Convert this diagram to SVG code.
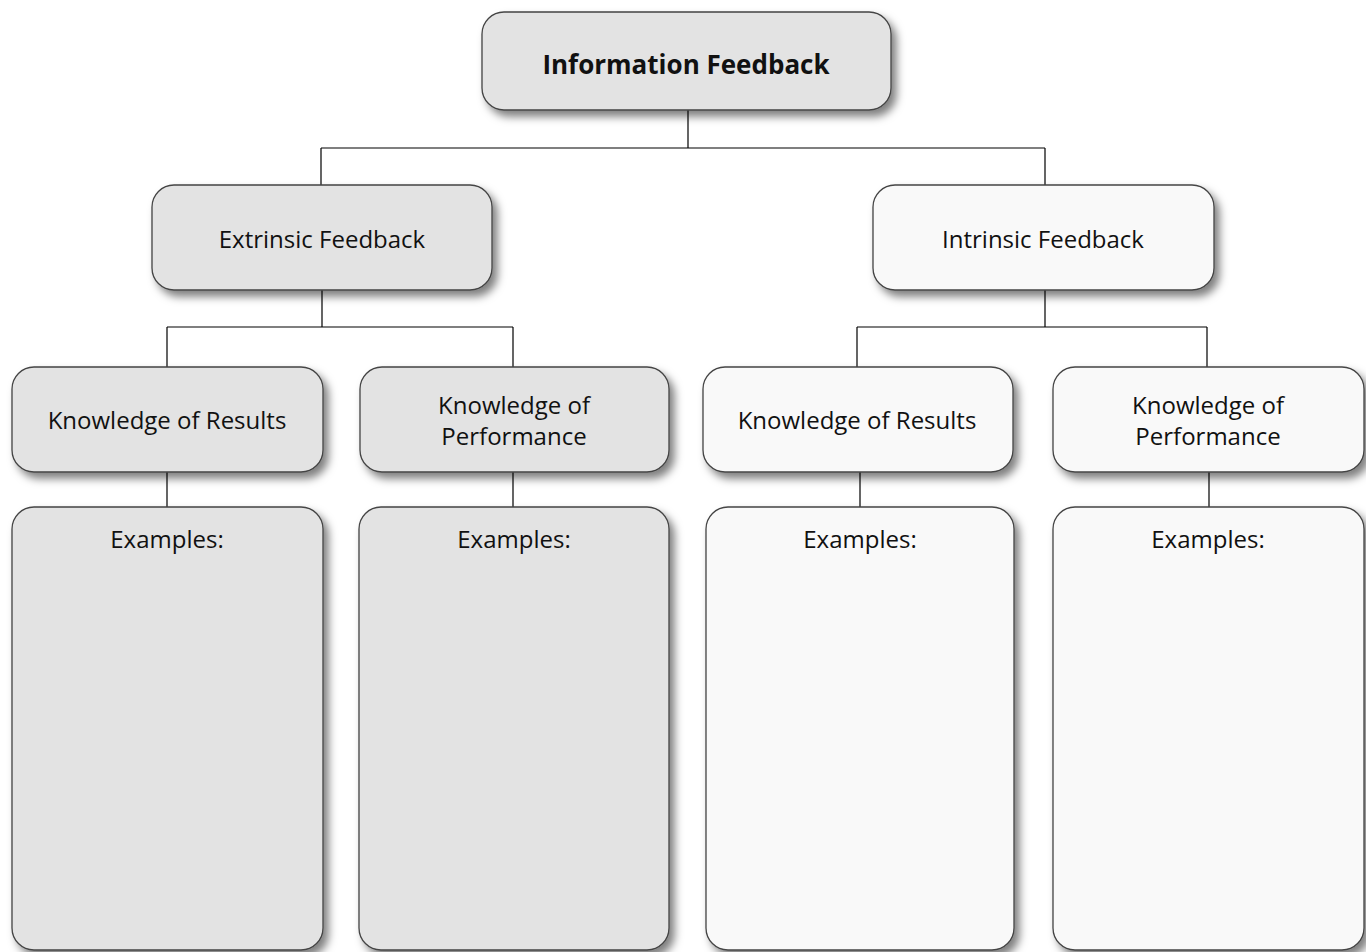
<svg xmlns="http://www.w3.org/2000/svg" width="1366" height="952" viewBox="0 0 1366 952">
<defs>
<filter id="sh" x="-10%" y="-10%" width="130%" height="130%">
<feDropShadow dx="5" dy="6" stdDeviation="4" flood-color="#000" flood-opacity="0.5"/>
</filter>
</defs>
<style>
.box{stroke:#444;stroke-width:1.3;filter:url(#sh)}
.g{fill:#e3e3e3}
.w{fill:#f9f9f9}
.t{font-family:"Open Sans","Liberation Sans",sans-serif;font-size:24px;fill:#111;text-anchor:middle}
.b{font-weight:bold;font-size:26px}
.c{stroke:#000;stroke-width:1.2;fill:none}
</style>
<rect width="1366" height="952" fill="#fff"/>
<g id="connectors">
<path class="c" d="M688 110V148M321 148H1045M321 148V185M1045 148V185"/>
<path class="c" d="M322 290V327M167 327H513M167 327V367M513 327V367"/>
<path class="c" d="M1045 290V327M857 327H1207M857 327V367M1207 327V367"/>
<path class="c" d="M167 472V507M513 472V507M860 472V507M1209 472V507"/>
</g>
<g id="n-info">
<rect class="box g" x="482" y="12" width="409" height="98" rx="22"/>
<text class="t b" x="686" y="74">Information Feedback</text>
</g>
<g id="n-extrinsic">
<rect class="box g" x="152" y="185" width="340" height="105" rx="22"/>
<text class="t" x="322" y="248">Extrinsic Feedback</text>
</g>
<g id="n-intrinsic">
<rect class="box w" x="873" y="185" width="341" height="105" rx="22"/>
<text class="t" x="1043" y="248">Intrinsic Feedback</text>
</g>
<g id="n-ext-kr">
<rect class="box g" x="12" y="367" width="311" height="105" rx="22"/>
<text class="t" x="167" y="429">Knowledge of Results</text>
</g>
<g id="n-ext-kp">
<rect class="box g" x="360" y="367" width="309" height="105" rx="22"/>
<text class="t" x="514" y="414">Knowledge of</text>
<text class="t" x="514" y="445">Performance</text>
</g>
<g id="n-int-kr">
<rect class="box w" x="703" y="367" width="310" height="105" rx="22"/>
<text class="t" x="857" y="429">Knowledge of Results</text>
</g>
<g id="n-int-kp">
<rect class="box w" x="1053" y="367" width="311" height="105" rx="22"/>
<text class="t" x="1208" y="414">Knowledge of</text>
<text class="t" x="1208" y="445">Performance</text>
</g>
<g id="n-ext-kr-ex">
<rect class="box g" x="12" y="507" width="311" height="443" rx="22"/>
<text class="t" x="167" y="548">Examples:</text>
</g>
<g id="n-ext-kp-ex">
<rect class="box g" x="359" y="507" width="310" height="443" rx="22"/>
<text class="t" x="514" y="548">Examples:</text>
</g>
<g id="n-int-kr-ex">
<rect class="box w" x="706" y="507" width="308" height="443" rx="22"/>
<text class="t" x="860" y="548">Examples:</text>
</g>
<g id="n-int-kp-ex">
<rect class="box w" x="1053" y="507" width="311" height="443" rx="22"/>
<text class="t" x="1208" y="548">Examples:</text>
</g>
</svg>
